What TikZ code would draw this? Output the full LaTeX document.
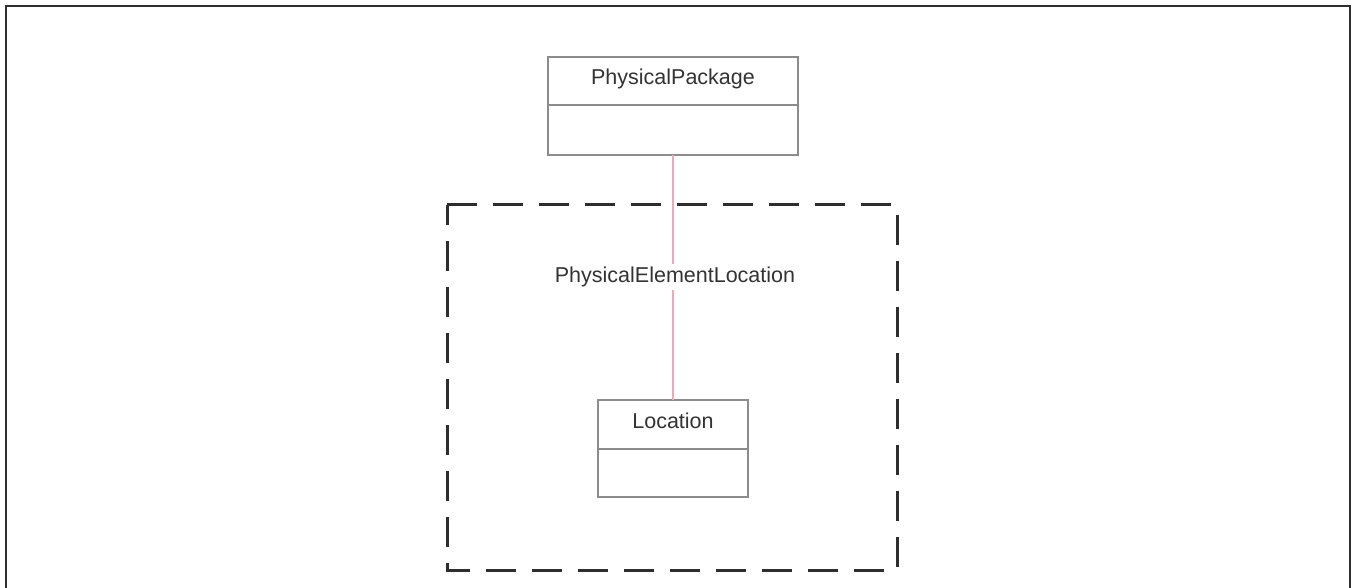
\documentclass[tikz,border=0pt]{standalone}
\usepackage{fontspec}
\setmainfont{Liberation Sans}
\definecolor{boxgray}{HTML}{8C8C8C}
\definecolor{linkpink}{HTML}{F0A8B8}
\definecolor{dashdark}{HTML}{2E2E2E}
\definecolor{framedark}{HTML}{303030}
\begin{document}
\begin{tikzpicture}[x=1pt,y=-1pt,
  umlbox/.style={draw=boxgray,line width=1.2pt,fill=white},
  umltext/.style={font=\fontsize{21.5}{26}\selectfont,text=black!80,inner sep=0pt},
  linkline/.style={draw=linkpink,line width=1.3pt},
  groupbox/.style={draw=dashdark,line width=3pt,dash pattern=on 30pt off 16pt}]
\useasboundingbox (0,0) rectangle (1352,588);
\fill[white] (0,0) rectangle (1352,588);
% outer frame (open at the bottom)
\draw[framedark,line width=2pt] (6,588) -- (6,6) -- (1350,6) -- (1350,588);
% group box
\draw[groupbox] (447,205) -- (897,205) -- (897,570) -- (447,570) -- cycle;
% PhysicalPackage class
\draw[umlbox] (548,57) rectangle (798,155);
\draw[boxgray,line width=1.2pt] (548,105) -- (798,105);
\node[umltext] (pp) at (673,79) {PhysicalPackage};
\coordinate (ppb) at (673,155);
% Location class
\draw[umlbox] (598,400) rectangle (748,497);
\draw[boxgray,line width=1.2pt] (598,449) -- (748,449);
\node[umltext] (loc) at (673,421) {Location};
\coordinate (loct) at (673,400);
% connector
\draw[linkline] (ppb) -- (loct);
\node[umltext,fill=white,inner sep=3pt] (lbl) at (675,277) {PhysicalElementLocation};
\end{tikzpicture}
\end{document}
